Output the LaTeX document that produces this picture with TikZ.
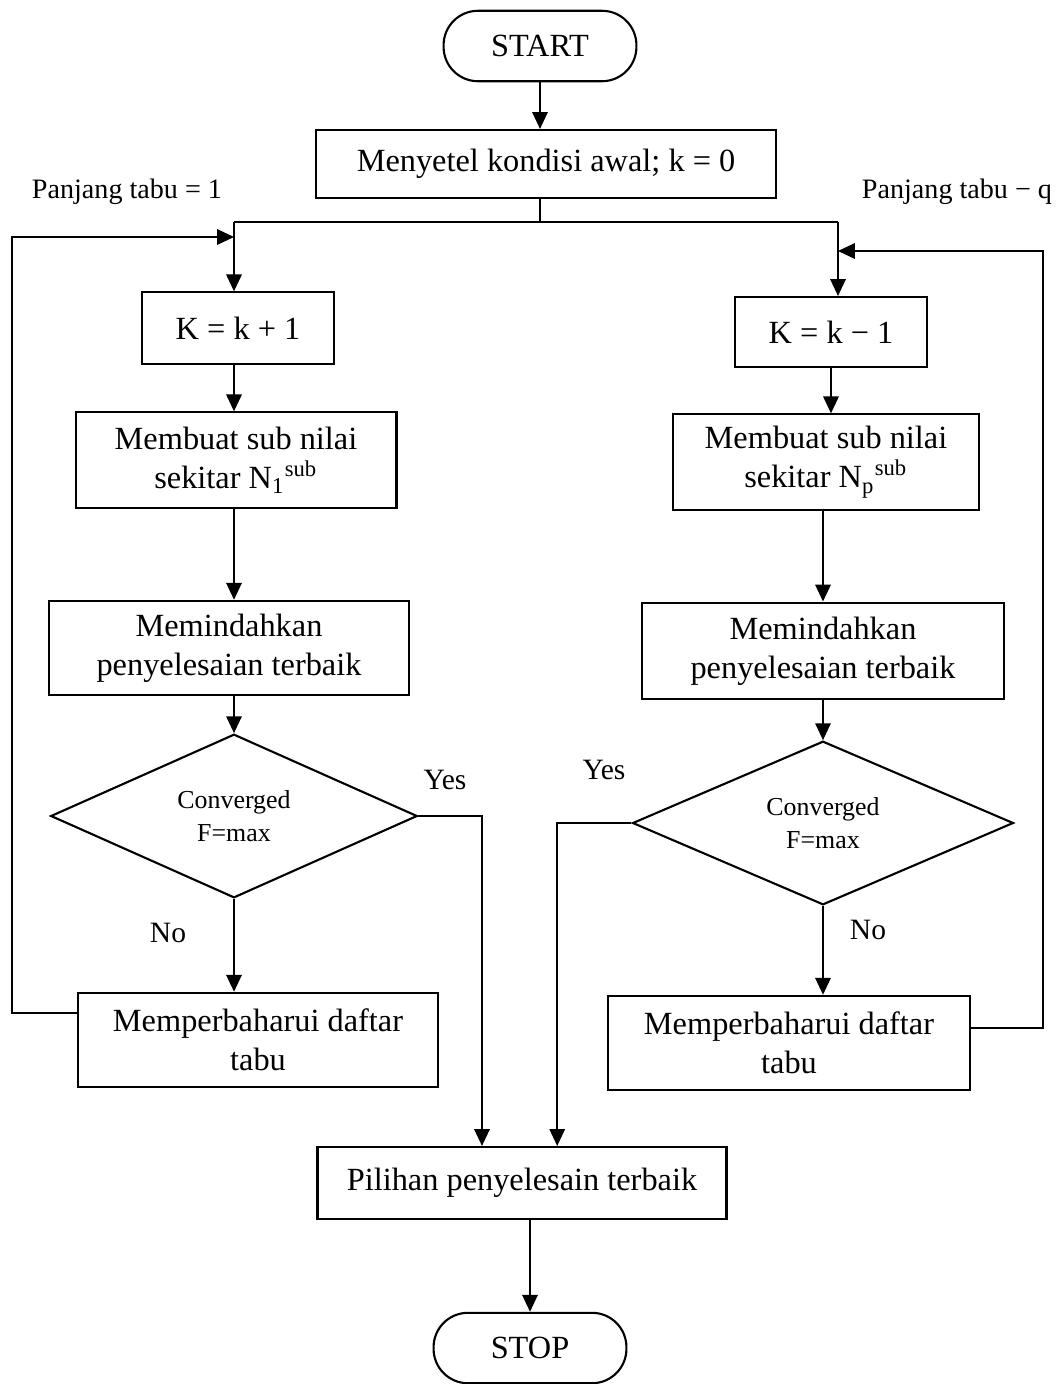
\documentclass[tikz,border=0pt]{standalone}
\usepackage{fontspec}
\setmainfont{Liberation Serif}
\usepackage{tikz}
\usetikzlibrary{positioning,arrows.meta,shapes.geometric}

\begin{document}
\begin{tikzpicture}[
      x=0.0125cm, y=-0.0125cm,
      font=\fontsize{11.5}{14}\selectfont,
      box/.style={draw, line width=.75pt, align=center, inner sep=0pt},
      term/.style={box, rounded corners=.43cm, minimum width=2.41cm, minimum height=.88cm},
      decide/.style={draw, line width=.75pt, shape=diamond, align=center, inner sep=0pt,
        font=\fontsize{9.2}{11.5}\selectfont},
      lab/.style={font=\fontsize{10.5}{12}\selectfont},
      toplab/.style={font=\fontsize{10}{12}\selectfont},
      arr/.style={line width=.6pt, -{Triangle[length=6pt,width=5.5pt]}},
      ln/.style={line width=.6pt}
    ]
      \useasboundingbox (0,0) rectangle (1060,1384);

      % start and set-up
      \node[term] (start) at (540,46) {START};
      \node[box, minimum width=5.75cm, minimum height=.85cm] (init) at (546,164) {Menyetel kondisi awal; k = 0};

      \node[toplab] (tabuL) at (127,192) {Panjang tabu = 1};
      \node[toplab] (tabuR) at (957,192) {Panjang tabu − q};

      % left branch
      \node[box, minimum width=2.41cm, minimum height=.89cm] (kL) at (238,328) {K = k + 1};
      \node[box, minimum width=4.01cm, minimum height=1.19cm] (subL) at (236,460)
        {Membuat sub nilai\\sekitar N\textsubscript{1}\textsuperscript{sub}};
      \node[box, minimum width=4.5cm, minimum height=1.18cm] (moveL) at (229,648)
        {Memindahkan\\penyelesaian terbaik};
      \node[decide, minimum width=4.58cm, minimum height=2.03cm] (convL) at (234,816) {Converged\\F=max};
      \node[box, minimum width=4.49cm, minimum height=1.18cm] (updL) at (258,1040)
        {Memperbaharui daftar\\tabu};

      % right branch
      \node[box, minimum width=2.4cm, minimum height=.875cm] (kR) at (831,332) {K = k − 1};
      \node[box, minimum width=3.83cm, minimum height=1.19cm] (subR) at (826,462)
        {Membuat sub nilai\\sekitar N\textsubscript{p}\textsuperscript{sub}};
      \node[box, minimum width=4.53cm, minimum height=1.21cm] (moveR) at (823,651)
        {Memindahkan\\penyelesaian terbaik};
      \node[decide, minimum width=4.76cm, minimum height=2.04cm] (convR) at (823,823) {Converged\\F=max};
      \node[box, minimum width=4.53cm, minimum height=1.18cm] (updR) at (789,1043)
        {Memperbaharui daftar\\tabu};

      % end
      \node[box, minimum width=5.11cm, minimum height=.9cm] (best) at (522,1183) {Pilihan penyelesain terbaik};
      \node[term] (stop) at (530,1348) {STOP};

      \node[lab] (yesL) at (445,780) {Yes};
      \node[lab] (yesR) at (604,770) {Yes};
      \node[lab] (noL) at (168,933) {No};
      \node[lab] (noR) at (868,930) {No};

      \coordinate (split) at (540,222);
      \coordinate (jL) at (234,222);
      \coordinate (jR) at (838,222);
      \coordinate (loopL) at (12,237);
      \coordinate (backL) at (234,237);
      \coordinate (loopR) at (1043,251);
      \coordinate (backR) at (838,251);

      \draw[arr] (start) -- (start |- init.north);
      \draw[ln] (init.south -| split) -- (split);
      \draw[ln] (jL) -- (jR);
      \draw[arr] (jL) -- (jL |- kL.north);
      \draw[arr] (jR) -- (jR |- kR.north);

      \draw[arr] (kL.south -| jL) -- (jL |- subL.north);
      \draw[arr] (subL.south -| jL) -- (jL |- moveL.north);
      \draw[arr] (convL.north |- moveL.south) -- (convL.north);
      \draw[arr] (convL.south) -- (convL.south |- updL.north);
      \draw[arr] ([yshift=.34cm]updL.west) -| (loopL) -- (backL);
      \draw[arr] (convL.east) -| ([xshift=-.5cm]best.north);

      \draw[arr] (kR.south) -- (kR.south |- subR.north);
      \draw[arr] (convR.north |- subR.south) -- (convR.north |- moveR.north);
      \draw[arr] (convR.north |- moveR.south) -- (convR.north);
      \draw[arr] (convR.south) -- (convR.south |- updR.north);
      \draw[arr] ([yshift=.19cm]updR.east) -| (loopR) -- (backR);
      \draw[arr] (convR.west) -| ([xshift=.44cm]best.north);

      \draw[arr] (stop.north |- best.south) -- (stop.north);
    \end{tikzpicture}
\end{document}
